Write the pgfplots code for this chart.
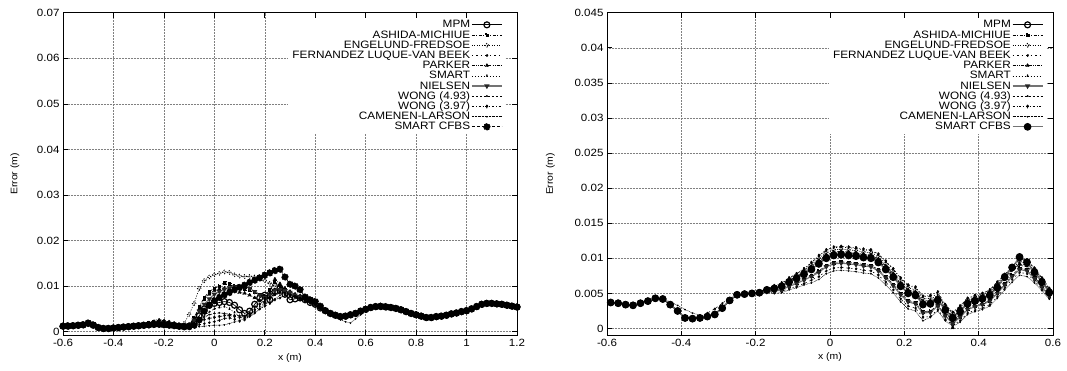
\documentclass[border=0pt]{standalone}
\usepackage{fontspec}
\setmainfont[FakeStretch=1.1]{Liberation Sans}
\usepackage{pgfplots}
\usepackage{pgfplotstable}
\pgfplotsset{compat=1.18}

% Error profiles, columns: x, then one column per transport formula (m)
\pgfplotstableread{
x mpm ash eng fer par sma nie wa wb cam cfb
-0.60 0.0012 0.0013 0.0011 0.0013 0.0012 0.0011 0.0012 0.0013 0.0011 0.0012 0.0012
-0.58 0.0012 0.0013 0.0012 0.0012 0.0013 0.0011 0.0012 0.0012 0.0012 0.0011 0.0013
-0.56 0.0013 0.0014 0.0012 0.0014 0.0013 0.0012 0.0013 0.0014 0.0012 0.0013 0.0013
-0.54 0.0014 0.0014 0.0013 0.0015 0.0014 0.0013 0.0014 0.0015 0.0013 0.0014 0.0014
-0.52 0.0015 0.0016 0.0014 0.0016 0.0015 0.0014 0.0015 0.0016 0.0014 0.0015 0.0015
-0.50 0.0018 0.0019 0.0017 0.0019 0.0018 0.0017 0.0018 0.0019 0.0017 0.0018 0.0019
-0.48 0.0014 0.0015 0.0013 0.0015 0.0014 0.0013 0.0014 0.0015 0.0013 0.0014 0.0015
-0.46 0.0009 0.0010 0.0008 0.0010 0.0009 0.0008 0.0009 0.0010 0.0008 0.0009 0.0009
-0.44 0.0007 0.0008 0.0006 0.0008 0.0007 0.0006 0.0007 0.0008 0.0006 0.0007 0.0007
-0.42 0.0007 0.0008 0.0007 0.0008 0.0007 0.0006 0.0007 0.0008 0.0007 0.0007 0.0007
-0.40 0.0008 0.0009 0.0007 0.0009 0.0008 0.0007 0.0008 0.0009 0.0007 0.0008 0.0008
-0.38 0.0009 0.0010 0.0008 0.0010 0.0009 0.0008 0.0009 0.0010 0.0008 0.0009 0.0009
-0.36 0.0010 0.0011 0.0009 0.0012 0.0010 0.0009 0.0010 0.0011 0.0009 0.0011 0.0010
-0.34 0.0011 0.0012 0.0010 0.0013 0.0011 0.0010 0.0011 0.0012 0.0010 0.0012 0.0011
-0.32 0.0012 0.0013 0.0011 0.0014 0.0012 0.0011 0.0012 0.0014 0.0011 0.0013 0.0012
-0.30 0.0013 0.0015 0.0012 0.0016 0.0013 0.0012 0.0014 0.0015 0.0012 0.0014 0.0013
-0.28 0.0014 0.0017 0.0013 0.0018 0.0015 0.0013 0.0015 0.0017 0.0013 0.0016 0.0014
-0.26 0.0015 0.0019 0.0015 0.0021 0.0016 0.0014 0.0017 0.0019 0.0015 0.0018 0.0015
-0.24 0.0016 0.0021 0.0016 0.0024 0.0018 0.0015 0.0019 0.0022 0.0017 0.0020 0.0016
-0.22 0.0017 0.0022 0.0017 0.0027 0.0019 0.0016 0.0020 0.0024 0.0018 0.0022 0.0016
-0.20 0.0016 0.0021 0.0018 0.0025 0.0018 0.0015 0.0019 0.0023 0.0017 0.0021 0.0015
-0.18 0.0015 0.0019 0.0017 0.0023 0.0017 0.0014 0.0018 0.0021 0.0016 0.0019 0.0014
-0.16 0.0014 0.0017 0.0016 0.0020 0.0016 0.0013 0.0016 0.0019 0.0015 0.0017 0.0013
-0.14 0.0012 0.0015 0.0015 0.0017 0.0014 0.0012 0.0015 0.0016 0.0013 0.0015 0.0012
-0.12 0.0011 0.0013 0.0018 0.0014 0.0013 0.0011 0.0013 0.0014 0.0012 0.0013 0.0011
-0.10 0.0012 0.0015 0.0038 0.0012 0.0016 0.0012 0.0014 0.0013 0.0012 0.0011 0.0011
-0.08 0.0018 0.0030 0.0062 0.0012 0.0030 0.0016 0.0025 0.0016 0.0014 0.0010 0.0014
-0.06 0.0035 0.0055 0.0095 0.0015 0.0050 0.0025 0.0045 0.0025 0.0020 0.0011 0.0026
-0.04 0.0050 0.0075 0.0112 0.0018 0.0070 0.0035 0.0060 0.0032 0.0026 0.0012 0.0045
-0.02 0.0058 0.0088 0.0120 0.0020 0.0082 0.0043 0.0072 0.0037 0.0029 0.0013 0.0058
0.00 0.0062 0.0095 0.0125 0.0022 0.0090 0.0050 0.0082 0.0040 0.0031 0.0014 0.0068
0.02 0.0064 0.0100 0.0128 0.0025 0.0093 0.0053 0.0088 0.0041 0.0033 0.0014 0.0075
0.04 0.0066 0.0108 0.0131 0.0029 0.0095 0.0055 0.0093 0.0040 0.0035 0.0015 0.0081
0.06 0.0064 0.0105 0.0130 0.0030 0.0094 0.0050 0.0096 0.0038 0.0035 0.0018 0.0086
0.08 0.0058 0.0100 0.0125 0.0027 0.0090 0.0042 0.0098 0.0036 0.0033 0.0021 0.0092
0.10 0.0048 0.0095 0.0122 0.0023 0.0086 0.0034 0.0100 0.0035 0.0031 0.0025 0.0097
0.12 0.0040 0.0094 0.0121 0.0026 0.0084 0.0032 0.0100 0.0035 0.0030 0.0029 0.0102
0.14 0.0045 0.0092 0.0121 0.0034 0.0080 0.0038 0.0095 0.0042 0.0036 0.0033 0.0108
0.16 0.0060 0.0088 0.0120 0.0042 0.0074 0.0046 0.0088 0.0055 0.0048 0.0040 0.0113
0.18 0.0074 0.0082 0.0117 0.0050 0.0068 0.0055 0.0080 0.0066 0.0060 0.0050 0.0118
0.20 0.0080 0.0078 0.0112 0.0056 0.0065 0.0062 0.0075 0.0074 0.0070 0.0060 0.0124
0.22 0.0070 0.0092 0.0106 0.0062 0.0085 0.0070 0.0080 0.0072 0.0075 0.0065 0.0129
0.24 0.0088 0.0110 0.0102 0.0070 0.0115 0.0084 0.0090 0.0080 0.0082 0.0072 0.0134
0.26 0.0095 0.0100 0.0100 0.0074 0.0105 0.0086 0.0092 0.0085 0.0086 0.0080 0.0137
0.28 0.0082 0.0092 0.0092 0.0080 0.0095 0.0082 0.0090 0.0084 0.0084 0.0084 0.0120
0.30 0.0070 0.0084 0.0086 0.0078 0.0088 0.0080 0.0086 0.0080 0.0080 0.0080 0.0104
0.32 0.0072 0.0078 0.0080 0.0076 0.0082 0.0076 0.0080 0.0078 0.0076 0.0076 0.0100
0.34 0.0074 0.0075 0.0076 0.0073 0.0078 0.0073 0.0076 0.0074 0.0073 0.0073 0.0092
0.36 0.0070 0.0070 0.0071 0.0068 0.0072 0.0069 0.0071 0.0070 0.0069 0.0069 0.0076
0.38 0.0064 0.0065 0.0066 0.0064 0.0066 0.0064 0.0065 0.0065 0.0064 0.0064 0.0070
0.40 0.0060 0.0061 0.0059 0.0061 0.0060 0.0059 0.0060 0.0061 0.0059 0.0060 0.0066
0.42 0.0052 0.0053 0.0051 0.0053 0.0052 0.0051 0.0052 0.0053 0.0051 0.0052 0.0056
0.44 0.0046 0.0047 0.0045 0.0047 0.0046 0.0045 0.0046 0.0047 0.0045 0.0044 0.0046
0.46 0.0040 0.0041 0.0039 0.0041 0.0040 0.0039 0.0040 0.0041 0.0039 0.0037 0.0040
0.48 0.0036 0.0037 0.0035 0.0037 0.0036 0.0035 0.0036 0.0037 0.0035 0.0031 0.0036
0.50 0.0033 0.0034 0.0032 0.0034 0.0033 0.0032 0.0033 0.0034 0.0032 0.0026 0.0033
0.52 0.0034 0.0035 0.0033 0.0035 0.0034 0.0033 0.0034 0.0035 0.0033 0.0022 0.0034
0.54 0.0037 0.0038 0.0036 0.0038 0.0037 0.0036 0.0037 0.0038 0.0036 0.0019 0.0037
0.56 0.0040 0.0041 0.0039 0.0041 0.0040 0.0039 0.0040 0.0041 0.0039 0.0028 0.0040
0.58 0.0045 0.0046 0.0044 0.0046 0.0045 0.0044 0.0045 0.0046 0.0044 0.0037 0.0045
0.60 0.0049 0.0050 0.0048 0.0050 0.0049 0.0048 0.0049 0.0050 0.0048 0.0046 0.0049
0.62 0.0053 0.0054 0.0052 0.0054 0.0053 0.0052 0.0053 0.0054 0.0052 0.0052 0.0053
0.64 0.0055 0.0056 0.0054 0.0056 0.0055 0.0054 0.0055 0.0056 0.0054 0.0055 0.0055
0.66 0.0055 0.0056 0.0054 0.0056 0.0055 0.0054 0.0055 0.0056 0.0054 0.0055 0.0056
0.68 0.0054 0.0055 0.0053 0.0055 0.0054 0.0053 0.0054 0.0055 0.0053 0.0054 0.0055
0.70 0.0053 0.0054 0.0052 0.0054 0.0053 0.0052 0.0053 0.0054 0.0052 0.0053 0.0053
0.72 0.0051 0.0052 0.0050 0.0052 0.0051 0.0050 0.0051 0.0052 0.0050 0.0051 0.0051
0.74 0.0048 0.0049 0.0047 0.0049 0.0048 0.0047 0.0048 0.0049 0.0047 0.0048 0.0048
0.76 0.0044 0.0045 0.0043 0.0046 0.0044 0.0043 0.0044 0.0046 0.0043 0.0045 0.0044
0.78 0.0040 0.0041 0.0039 0.0043 0.0040 0.0039 0.0040 0.0043 0.0039 0.0042 0.0040
0.80 0.0037 0.0038 0.0036 0.0041 0.0037 0.0036 0.0037 0.0041 0.0036 0.0040 0.0037
0.82 0.0034 0.0035 0.0033 0.0039 0.0034 0.0033 0.0034 0.0039 0.0033 0.0038 0.0034
0.84 0.0031 0.0032 0.0030 0.0036 0.0031 0.0030 0.0031 0.0036 0.0030 0.0035 0.0031
0.86 0.0031 0.0032 0.0030 0.0033 0.0031 0.0030 0.0031 0.0033 0.0030 0.0032 0.0031
0.88 0.0033 0.0034 0.0032 0.0034 0.0033 0.0032 0.0033 0.0034 0.0032 0.0033 0.0033
0.90 0.0034 0.0035 0.0033 0.0035 0.0034 0.0033 0.0034 0.0035 0.0033 0.0034 0.0034
0.92 0.0036 0.0037 0.0035 0.0037 0.0036 0.0035 0.0036 0.0037 0.0035 0.0036 0.0036
0.94 0.0039 0.0040 0.0038 0.0040 0.0039 0.0038 0.0039 0.0040 0.0038 0.0039 0.0039
0.96 0.0041 0.0042 0.0040 0.0042 0.0041 0.0040 0.0041 0.0042 0.0040 0.0041 0.0041
0.98 0.0044 0.0045 0.0043 0.0045 0.0044 0.0043 0.0044 0.0045 0.0043 0.0044 0.0044
1.00 0.0046 0.0047 0.0045 0.0047 0.0046 0.0045 0.0046 0.0047 0.0045 0.0046 0.0046
1.02 0.0050 0.0051 0.0049 0.0051 0.0050 0.0049 0.0050 0.0051 0.0049 0.0050 0.0050
1.04 0.0055 0.0056 0.0054 0.0056 0.0055 0.0054 0.0055 0.0056 0.0054 0.0055 0.0055
1.06 0.0060 0.0061 0.0059 0.0061 0.0060 0.0059 0.0060 0.0061 0.0059 0.0060 0.0060
1.08 0.0062 0.0063 0.0061 0.0063 0.0062 0.0061 0.0062 0.0063 0.0061 0.0062 0.0062
1.10 0.0062 0.0063 0.0061 0.0063 0.0062 0.0061 0.0062 0.0063 0.0061 0.0062 0.0062
1.12 0.0061 0.0062 0.0060 0.0062 0.0061 0.0060 0.0061 0.0062 0.0060 0.0061 0.0061
1.14 0.0060 0.0061 0.0059 0.0061 0.0060 0.0059 0.0060 0.0061 0.0059 0.0060 0.0060
1.16 0.0058 0.0059 0.0057 0.0059 0.0058 0.0057 0.0058 0.0059 0.0057 0.0058 0.0058
1.18 0.0056 0.0057 0.0055 0.0057 0.0056 0.0055 0.0056 0.0057 0.0055 0.0056 0.0056
1.20 0.0054 0.0055 0.0053 0.0055 0.0054 0.0053 0.0054 0.0055 0.0053 0.0054 0.0054
}\leftdata

\pgfplotstableread{
x mpm ash eng fer par sma nie wa wb cam cfb
-0.59 0.0037 0.0037 0.0037 0.0037 0.0037 0.0037 0.0037 0.0037 0.0037 0.0037 0.0037
-0.57 0.0036 0.0036 0.0036 0.0036 0.0036 0.0036 0.0036 0.0036 0.0036 0.0036 0.0036
-0.55 0.0034 0.0034 0.0034 0.0034 0.0034 0.0034 0.0034 0.0034 0.0034 0.0034 0.0034
-0.53 0.0033 0.0033 0.0033 0.0033 0.0033 0.0033 0.0033 0.0033 0.0033 0.0033 0.0033
-0.51 0.0036 0.0036 0.0036 0.0036 0.0036 0.0036 0.0036 0.0036 0.0036 0.0036 0.0036
-0.49 0.0039 0.0039 0.0039 0.0039 0.0039 0.0039 0.0039 0.0039 0.0039 0.0039 0.0039
-0.47 0.0043 0.0043 0.0043 0.0043 0.0043 0.0043 0.0043 0.0043 0.0043 0.0043 0.0043
-0.45 0.0042 0.0042 0.0042 0.0042 0.0042 0.0042 0.0042 0.0042 0.0042 0.0042 0.0042
-0.43 0.0034 0.0034 0.0034 0.0034 0.0034 0.0034 0.0034 0.0034 0.0034 0.0038 0.0034
-0.41 0.0025 0.0025 0.0025 0.0025 0.0025 0.0025 0.0025 0.0025 0.0025 0.0033 0.0025
-0.39 0.0015 0.0015 0.0015 0.0015 0.0015 0.0015 0.0015 0.0015 0.0015 0.0027 0.0015
-0.37 0.0014 0.0014 0.0014 0.0014 0.0014 0.0014 0.0014 0.0014 0.0014 0.0022 0.0014
-0.35 0.0015 0.0015 0.0015 0.0015 0.0015 0.0015 0.0015 0.0015 0.0015 0.0019 0.0015
-0.33 0.0017 0.0017 0.0017 0.0022 0.0017 0.0017 0.0017 0.0017 0.0017 0.0019 0.0017
-0.31 0.0020 0.0020 0.0020 0.0028 0.0020 0.0020 0.0020 0.0020 0.0020 0.0022 0.0020
-0.29 0.0029 0.0029 0.0029 0.0036 0.0029 0.0029 0.0029 0.0029 0.0029 0.0030 0.0029
-0.27 0.0040 0.0040 0.0040 0.0043 0.0040 0.0040 0.0040 0.0040 0.0040 0.0040 0.0040
-0.25 0.0048 0.0048 0.0048 0.0048 0.0048 0.0048 0.0048 0.0048 0.0048 0.0048 0.0048
-0.23 0.0049 0.0049 0.0049 0.0049 0.0049 0.0049 0.0049 0.0049 0.0049 0.0049 0.0049
-0.21 0.0050 0.0050 0.0050 0.0050 0.0050 0.0050 0.0050 0.0050 0.0050 0.0050 0.0050
-0.19 0.0051 0.0050 0.0052 0.0049 0.0051 0.0052 0.0050 0.0051 0.0052 0.0049 0.0051
-0.17 0.0055 0.0053 0.0057 0.0051 0.0056 0.0057 0.0053 0.0056 0.0057 0.0051 0.0055
-0.15 0.0057 0.0054 0.0059 0.0052 0.0059 0.0060 0.0053 0.0058 0.0061 0.0050 0.0057
-0.13 0.0060 0.0056 0.0063 0.0053 0.0062 0.0064 0.0055 0.0061 0.0065 0.0051 0.0060
-0.11 0.0067 0.0061 0.0070 0.0057 0.0069 0.0072 0.0060 0.0068 0.0072 0.0055 0.0066
-0.09 0.0072 0.0065 0.0076 0.0060 0.0074 0.0078 0.0064 0.0073 0.0078 0.0058 0.0071
-0.07 0.0078 0.0070 0.0083 0.0064 0.0081 0.0085 0.0069 0.0079 0.0085 0.0062 0.0077
-0.05 0.0085 0.0075 0.0091 0.0069 0.0088 0.0093 0.0074 0.0087 0.0094 0.0065 0.0084
-0.03 0.0093 0.0082 0.0100 0.0074 0.0097 0.0103 0.0080 0.0095 0.0104 0.0070 0.0092
-0.01 0.0101 0.0090 0.0108 0.0082 0.0105 0.0111 0.0088 0.0103 0.0112 0.0078 0.0100
0.01 0.0105 0.0094 0.0112 0.0086 0.0109 0.0115 0.0092 0.0107 0.0116 0.0082 0.0104
0.03 0.0106 0.0095 0.0113 0.0087 0.0110 0.0116 0.0093 0.0108 0.0117 0.0083 0.0105
0.05 0.0105 0.0094 0.0112 0.0086 0.0109 0.0115 0.0092 0.0107 0.0116 0.0082 0.0104
0.07 0.0104 0.0093 0.0111 0.0085 0.0108 0.0114 0.0091 0.0106 0.0115 0.0081 0.0103
0.09 0.0102 0.0091 0.0109 0.0083 0.0106 0.0112 0.0089 0.0104 0.0113 0.0079 0.0101
0.11 0.0101 0.0090 0.0108 0.0082 0.0105 0.0111 0.0088 0.0103 0.0112 0.0078 0.0100
0.13 0.0095 0.0084 0.0102 0.0076 0.0099 0.0105 0.0082 0.0097 0.0106 0.0072 0.0094
0.15 0.0085 0.0074 0.0092 0.0066 0.0089 0.0095 0.0072 0.0087 0.0096 0.0062 0.0084
0.17 0.0074 0.0063 0.0081 0.0055 0.0078 0.0084 0.0061 0.0076 0.0085 0.0051 0.0073
0.19 0.0061 0.0050 0.0068 0.0042 0.0065 0.0071 0.0048 0.0063 0.0072 0.0038 0.0060
0.21 0.0051 0.0040 0.0058 0.0032 0.0055 0.0061 0.0038 0.0053 0.0062 0.0028 0.0050
0.23 0.0048 0.0037 0.0055 0.0029 0.0052 0.0058 0.0035 0.0050 0.0059 0.0025 0.0047
0.25 0.0035 0.0024 0.0042 0.0016 0.0039 0.0045 0.0022 0.0037 0.0046 0.0011 0.0034
0.27 0.0036 0.0025 0.0043 0.0017 0.0040 0.0046 0.0023 0.0038 0.0047 0.0016 0.0035
0.29 0.0041 0.0033 0.0046 0.0027 0.0044 0.0048 0.0032 0.0042 0.0052 0.0025 0.0040
0.31 0.0027 0.0019 0.0032 0.0013 0.0030 0.0034 0.0018 0.0028 0.0034 0.0011 0.0026
0.33 0.0016 0.0008 0.0021 0.0005 0.0001 0.0023 0.0007 0.0017 0.0023 0.0003 0.0015
0.35 0.0025 0.0017 0.0030 0.0011 0.0028 0.0032 0.0016 0.0026 0.0032 0.0009 0.0024
0.37 0.0036 0.0028 0.0041 0.0022 0.0039 0.0043 0.0027 0.0037 0.0043 0.0020 0.0035
0.39 0.0040 0.0032 0.0045 0.0026 0.0043 0.0047 0.0031 0.0041 0.0047 0.0024 0.0039
0.41 0.0043 0.0035 0.0048 0.0029 0.0046 0.0050 0.0034 0.0044 0.0050 0.0027 0.0042
0.43 0.0048 0.0040 0.0053 0.0034 0.0051 0.0055 0.0039 0.0049 0.0055 0.0032 0.0047
0.45 0.0059 0.0051 0.0064 0.0045 0.0062 0.0066 0.0050 0.0060 0.0066 0.0043 0.0058
0.47 0.0074 0.0064 0.0075 0.0058 0.0072 0.0076 0.0062 0.0070 0.0077 0.0055 0.0073
0.49 0.0087 0.0076 0.0086 0.0070 0.0084 0.0088 0.0074 0.0082 0.0089 0.0066 0.0087
0.51 0.0101 0.0086 0.0095 0.0080 0.0092 0.0097 0.0084 0.0090 0.0098 0.0076 0.0102
0.53 0.0095 0.0084 0.0092 0.0078 0.0090 0.0096 0.0082 0.0088 0.0097 0.0074 0.0094
0.55 0.0081 0.0073 0.0084 0.0068 0.0082 0.0086 0.0071 0.0079 0.0086 0.0065 0.0080
0.57 0.0067 0.0061 0.0070 0.0056 0.0068 0.0072 0.0059 0.0066 0.0072 0.0054 0.0066
0.59 0.0052 0.0047 0.0055 0.0043 0.0054 0.0057 0.0046 0.0052 0.0057 0.0042 0.0051
}\rightdata

\pgfplotsset{
  legend image code/.code={\draw[mark repeat=2,mark phase=2,#1]
    plot coordinates {(0pt,0pt) (15pt,0pt) (30pt,0pt)};},
  every mark/.append style={solid},
  errpanel/.style={
    scale only axis,
    axis line style={line width=0.9pt},
    tick align=inside, major tick length=5pt,
    tick style={black, line width=0.6pt},
    grid=major,
    major grid style={black!50, line width=0.55pt, dash pattern=on 0.35pt off 1.15pt},
    /pgf/number format/assume math mode=true,
    /pgf/number format/fixed,
    scaled ticks=false,
    ticklabel style={font=\fontsize{10.5}{10.5}\selectfont},
    every axis label/.append style={font=\fontsize{9.5}{9.5}\selectfont},
    xlabel={x (m)}, ylabel={Error (m)},
    legend cell align=right, legend plot pos=right,
    legend style={draw=none, fill=white, anchor=north east,
      font=\fontsize{10.7}{10.7}\selectfont, row sep=0pt,
      nodes={inner sep=1.2pt, text height=7pt, text depth=0.8pt}},
  },
  pmpm/.style={black, line width=0.7pt, mark=o, mark size=3pt, mark options={line width=1.2pt}},
  pash/.style={black, line width=0.6pt, dash pattern=on 3pt off 1.5pt on 1pt off 1.5pt, mark=square*, mark size=1.4pt},
  peng/.style={black, line width=0.6pt, dash pattern=on 1pt off 1.5pt, mark=o, mark size=1.8pt, mark options={line width=0.9pt}},
  pfer/.style={black, line width=0.6pt, dash pattern=on 1.5pt off 3pt, mark=*, mark size=1.2pt},
  ppar/.style={black, line width=0.6pt, dash pattern=on 3pt off 1.2pt on 0.8pt off 1.2pt on 0.8pt off 1.2pt, mark=triangle*, mark size=2pt},
  psma/.style={black, line width=0.6pt, dash pattern=on 1pt off 2pt, mark=triangle*, mark size=1.3pt},
  pnie/.style={black!55, line width=1.1pt, mark=triangle*, mark size=2pt, mark options={rotate=180, fill=black!85, draw=black!85}},
  pwa/.style={black, line width=0.6pt, dash pattern=on 2.5pt off 1.5pt, mark=*, mark size=0.8pt},
  pwb/.style={black, line width=0.6pt, dash pattern=on 2pt off 2pt on 0.7pt off 2pt, mark=diamond*, mark size=1.6pt},
  pcam/.style={black, line width=0.6pt, dash pattern=on 0.6pt off 0.8pt, mark=*, mark size=0.7pt},
}

\begin{document}
\begin{tikzpicture}[x=1pt,y=1pt]
\useasboundingbox (0,0) rectangle (1067,370);

% left panel
\begin{axis}[errpanel, at={(63pt,34.7pt)}, anchor=south west,
  width=454pt, height=322.6pt,
  xmin=-0.6, xmax=1.2, ymin=-0.0008, ymax=0.07,
  xtick={-0.6,-0.4,-0.2,0,0.2,0.4,0.6,0.8,1,1.2},
  ytick={0,0.01,0.02,0.03,0.04,0.05,0.06,0.07},
  /pgf/number format/precision=2,
  ylabel style={at={(axis description cs:-0.106,0.5)}, anchor=center},
  xlabel style={at={(axis description cs:0.5,-0.070)}, anchor=center},
  legend style={at={(axis description cs:0.975,0.985)}},
]
\addplot[pmpm] table[x=x,y=mpm]{\leftdata};
\addlegendentry{MPM}
\addplot[pash] table[x=x,y=ash]{\leftdata};
\addlegendentry{ASHIDA-MICHIUE}
\addplot[peng] table[x=x,y=eng]{\leftdata};
\addlegendentry{ENGELUND-FREDSOE}
\addplot[pfer] table[x=x,y=fer]{\leftdata};
\addlegendentry{FERNANDEZ LUQUE-VAN BEEK}
\addplot[ppar] table[x=x,y=par]{\leftdata};
\addlegendentry{PARKER}
\addplot[psma] table[x=x,y=sma]{\leftdata};
\addlegendentry{SMART}
\addplot[pnie] table[x=x,y=nie]{\leftdata};
\addlegendentry{NIELSEN}
\addplot[pwa] table[x=x,y=wa]{\leftdata};
\addlegendentry{WONG (4.93)}
\addplot[pwb] table[x=x,y=wb]{\leftdata};
\addlegendentry{WONG (3.97)}
\addplot[pcam] table[x=x,y=cam]{\leftdata};
\addlegendentry{CAMENEN-LARSON}
\addplot[black, line width=0.7pt, dash pattern=on 3pt off 2pt, mark=*, mark size=3.3pt] table[x=x,y=cfb]{\leftdata};
\addlegendentry{SMART CFBS}
\end{axis}

% right panel
\begin{axis}[errpanel, at={(607pt,34.5pt)}, anchor=south west,
  width=446pt, height=322.8pt,
  xmin=-0.6, xmax=0.6, ymin=-0.001, ymax=0.045,
  xtick={-0.6,-0.4,-0.2,0,0.2,0.4,0.6},
  ytick={0,0.005,0.01,0.015,0.02,0.025,0.03,0.035,0.04,0.045},
  /pgf/number format/precision=3,
  ylabel style={at={(axis description cs:-0.127,0.5)}, anchor=center},
  xlabel style={at={(axis description cs:0.5,-0.067)}, anchor=center},
  legend style={at={(axis description cs:0.985,0.985)}},
]
\addplot[pmpm] table[x=x,y=mpm]{\rightdata};
\addlegendentry{MPM}
\addplot[pash] table[x=x,y=ash]{\rightdata};
\addlegendentry{ASHIDA-MICHIUE}
\addplot[peng] table[x=x,y=eng]{\rightdata};
\addlegendentry{ENGELUND-FREDSOE}
\addplot[pfer] table[x=x,y=fer]{\rightdata};
\addlegendentry{FERNANDEZ LUQUE-VAN BEEK}
\addplot[ppar] table[x=x,y=par]{\rightdata};
\addlegendentry{PARKER}
\addplot[psma] table[x=x,y=sma]{\rightdata};
\addlegendentry{SMART}
\addplot[pnie] table[x=x,y=nie]{\rightdata};
\addlegendentry{NIELSEN}
\addplot[pwa] table[x=x,y=wa]{\rightdata};
\addlegendentry{WONG (4.93)}
\addplot[pwb] table[x=x,y=wb]{\rightdata};
\addlegendentry{WONG (3.97)}
\addplot[pcam] table[x=x,y=cam]{\rightdata};
\addlegendentry{CAMENEN-LARSON}
\addplot[black!55, line width=1.1pt, mark=*, mark size=3.3pt, mark options={fill=black, draw=black}] table[x=x,y=cfb]{\rightdata};
\addlegendentry{SMART CFBS}
\end{axis}
\end{tikzpicture}
\end{document}
